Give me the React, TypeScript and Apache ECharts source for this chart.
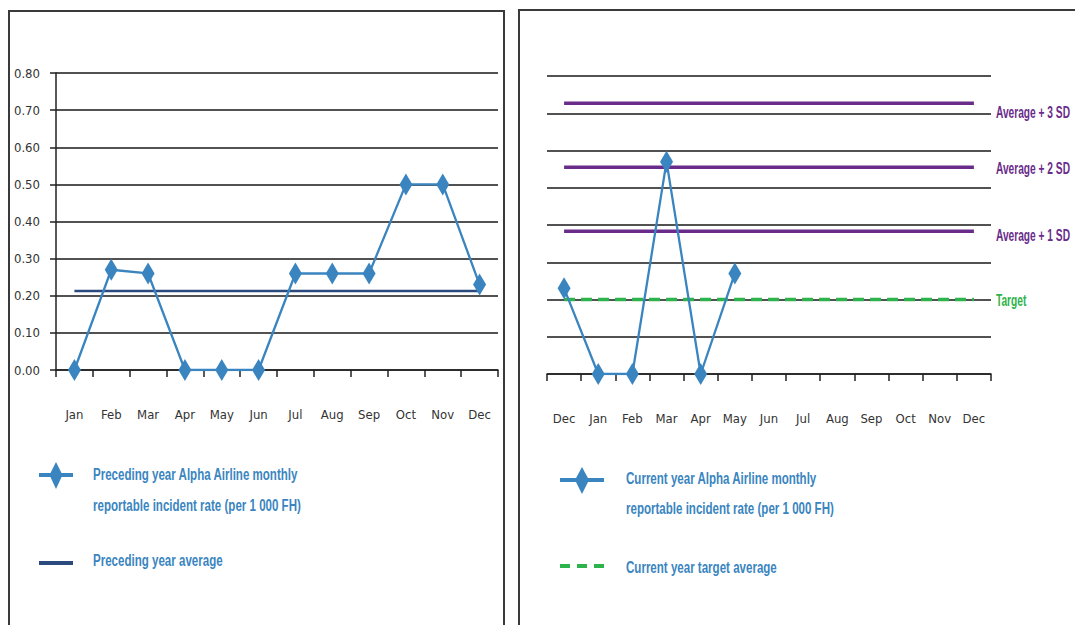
import React, { useEffect, useRef } from "react";
import * as echarts from "echarts";

const prevMonths = ["Jan", "Feb", "Mar", "Apr", "May", "Jun", "Jul", "Aug", "Sep", "Oct", "Nov", "Dec"];
const prevRates = [0.0, 0.27, 0.26, 0.0, 0.0, 0.0, 0.26, 0.26, 0.26, 0.5, 0.5, 0.23];
const prevAverage = 0.213;

const curMonths = ["Dec", "Jan", "Feb", "Mar", "Apr", "May", "Jun", "Jul", "Aug", "Sep", "Oct", "Nov", "Dec"];
const curRates: (number | null)[] = [0.23, 0.0, 0.0, 0.57, 0.0, 0.27, null, null, null, null, null, null, null];
const limitNames = ["Average + 3 SD", "Average + 2 SD", "Average + 1 SD"];
const limitValues = [0.727, 0.555, 0.383];
const limitLabelShift = [9, 1, 4];
const targetName = "Target";
const targetValue = 0.2;

const yTicks = { min: 0, max: 0.8, interval: 0.1 };

const AXIS_FONT = "'DejaVu Sans Condensed', 'Liberation Sans', sans-serif";
const TEXT_FONT = "'Liberation Sans', Arial, sans-serif";
const BLUE = "#3a85c0";
const NAVY = "#2b4a7e";
const PURPLE = "#6a2c8a";
const GREEN = "#2db34b";
const GRID = "#525252";
const SX = 0.68;

export default function App() {
  const ref = useRef<HTMLDivElement>(null);
  useEffect(() => {
    if (!ref.current) return;
    const chart = echarts.init(ref.current, null, { renderer: "svg" });
    const constLine = (v: number, n: number) => new Array(n).fill(v);
    const xAxisBase = {
      type: "category",
      boundaryGap: true,
      axisLine: { show: true, lineStyle: { color: "#222", width: 1.5 } },
      axisTick: { show: true, length: 7, lineStyle: { color: "#222", width: 1.5 } },
      axisLabel: { margin: 38, color: "#333", fontSize: 13, fontFamily: AXIS_FONT, interval: 0 },
    };
    const option: any = {
      animation: false,
      backgroundColor: "#ffffff",
      grid: [
        { left: 56, right: 577, top: 73, bottom: 255 },
        { left: 547, right: 84, top: 76, bottom: 251 },
      ],
      xAxis: [
        { ...xAxisBase, gridIndex: 0, data: prevMonths },
        { ...xAxisBase, gridIndex: 1, data: curMonths },
      ],
      yAxis: [
        {
          type: "value",
          gridIndex: 0,
          ...yTicks,
          axisLine: { show: true, lineStyle: { color: "#222", width: 1.5 } },
          axisTick: { show: true, length: 6, lineStyle: { color: "#222", width: 1.5 } },
          axisLabel: { margin: 16, color: "#333", fontSize: 13, fontFamily: AXIS_FONT, formatter: (v: number) => v.toFixed(2) },
          splitLine: { show: true, lineStyle: { color: GRID, width: 2.2 } },
        },
        {
          type: "value",
          gridIndex: 1,
          ...yTicks,
          axisLine: { show: false },
          axisTick: { show: false },
          axisLabel: { show: false },
          splitLine: { show: true, lineStyle: { color: GRID, width: 2.2 } },
        },
      ],
      series: [
        {
          type: "line",
          xAxisIndex: 0,
          yAxisIndex: 0,
          data: constLine(prevAverage, prevMonths.length),
          symbol: "none",
          lineStyle: { color: NAVY, width: 2.5 },
          silent: true,
        },
        {
          type: "line",
          xAxisIndex: 0,
          yAxisIndex: 0,
          data: prevRates,
          symbol: "diamond",
          symbolSize: [13, 22],
          itemStyle: { color: BLUE },
          lineStyle: { color: BLUE, width: 2.3 },
        },
        ...limitValues.map((v) => ({
          type: "line",
          xAxisIndex: 1,
          yAxisIndex: 1,
          data: constLine(v, curMonths.length),
          symbol: "none",
          lineStyle: { color: PURPLE, width: 3.5 },
          silent: true,
        })),
        {
          type: "line",
          xAxisIndex: 1,
          yAxisIndex: 1,
          data: constLine(targetValue, curMonths.length),
          symbol: "none",
          lineStyle: { color: GREEN, width: 3.5, type: [11, 6] },
          silent: true,
        },
        {
          type: "line",
          xAxisIndex: 1,
          yAxisIndex: 1,
          data: curRates,
          symbol: "diamond",
          symbolSize: [13, 22],
          itemStyle: { color: BLUE },
          lineStyle: { color: BLUE, width: 2.3 },
        },
      ],
    };
    chart.setOption(option);

    const lastIdx = curMonths.length - 1;
    const labelAt = (v: number) => chart.convertToPixel({ xAxisIndex: 1, yAxisIndex: 1 } as any, [lastIdx, v]) as number[];
    const limitLabels = limitValues.map((v, i) => {
      const p = labelAt(v);
      return {
        type: "text",
        x: p[0] + 22,
        y: p[1] + limitLabelShift[i],
        scaleX: 0.6,
        style: { text: limitNames[i], fill: PURPLE, font: `bold 17px ${TEXT_FONT}`, verticalAlign: "middle" },
      };
    });
    const tp = labelAt(targetValue);
    const legendText = (x: number, y: number, text: string) => ({
      type: "text",
      x,
      y,
      scaleX: SX,
      style: { text, fill: BLUE, font: `bold 17px ${TEXT_FONT}`, verticalAlign: "middle" },
    });

    chart.setOption({
      graphic: [
        { type: "rect", shape: { x: 9, y: 11, width: 495, height: 640 }, style: { fill: "none", stroke: "#3a3a3a", lineWidth: 2 }, z: -1 },
        { type: "rect", shape: { x: 519, y: 10, width: 600, height: 640 }, style: { fill: "none", stroke: "#3a3a3a", lineWidth: 2 }, z: -1 },
        ...limitLabels,
        {
          type: "text",
          x: tp[0] + 22,
          y: tp[1],
          scaleX: 0.6,
          style: { text: targetName, fill: GREEN, font: `bold 17px ${TEXT_FONT}`, verticalAlign: "middle" },
        },
        // left legend
        { type: "line", shape: { x1: 39, y1: 475, x2: 73, y2: 475 }, style: { stroke: BLUE, lineWidth: 4 } },
        { type: "polygon", shape: { points: [[56, 462], [62.5, 475], [56, 489], [49.5, 475]] }, style: { fill: BLUE } },
        legendText(93, 474, "Preceding year Alpha Airline monthly"),
        legendText(93, 505, "reportable incident rate (per 1 000 FH)"),
        { type: "line", shape: { x1: 39, y1: 563, x2: 73, y2: 563 }, style: { stroke: NAVY, lineWidth: 4 } },
        legendText(93, 560, "Preceding year average"),
        // right legend
        { type: "line", shape: { x1: 560, y1: 480, x2: 604, y2: 480 }, style: { stroke: BLUE, lineWidth: 4 } },
        { type: "polygon", shape: { points: [[582, 467], [589, 480], [582, 494], [575, 480]] }, style: { fill: BLUE } },
        legendText(626, 478, "Current year Alpha Airline monthly"),
        legendText(626, 508, "reportable incident rate (per 1 000 FH)"),
        { type: "line", shape: { x1: 560, y1: 566, x2: 606, y2: 566 }, style: { stroke: GREEN, lineWidth: 4, lineDash: [10, 7] } },
        legendText(626, 567, "Current year target average"),
      ],
    });
    return () => chart.dispose();
  }, []);
  return <div ref={ref} style={{ position: "absolute", left: 0, top: 0, width: 1075, height: 625 }} />;
}
